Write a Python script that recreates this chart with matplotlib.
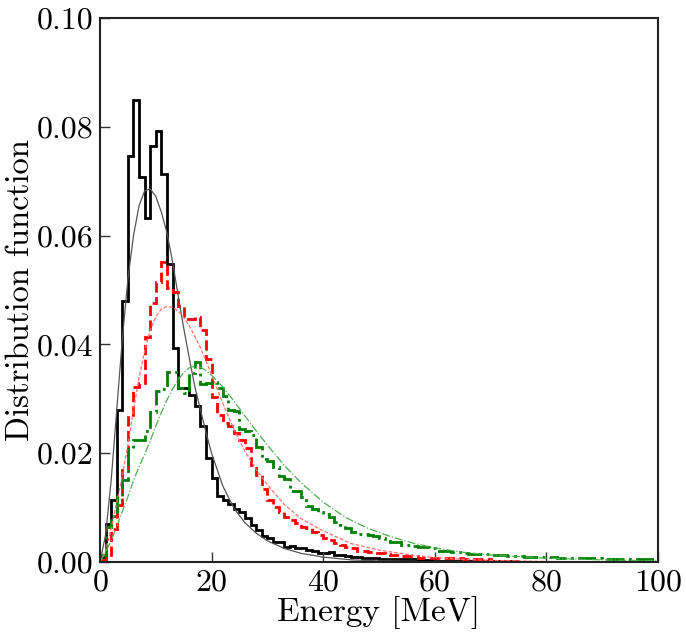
import numpy as np
import matplotlib
matplotlib.use("Agg")
import matplotlib.pyplot as plt

# bin edges (1 MeV bins from 0 to 100 MeV)
edges = np.arange(0, 101)

# histogram values per bin
black_hist = [
    0.0010, 0.0070, 0.0114, 0.0280, 0.0480, 0.0747, 0.0850, 0.0708, 0.0632, 0.0764,
    0.0793, 0.0714, 0.0547, 0.0394, 0.0320, 0.0320, 0.0307, 0.0286, 0.0250, 0.0192,
    0.0154, 0.0121, 0.0114, 0.0106, 0.0098, 0.0091, 0.0081, 0.0068, 0.0059, 0.0048,
    0.0044, 0.0037, 0.0037, 0.0028, 0.0029, 0.0025, 0.0026, 0.0022, 0.0021, 0.0017,
    0.0017, 0.0018, 0.0013, 0.0013, 0.0011, 0.0010, 0.0010, 0.0008, 0.0007, 0.0007,
    0.0006, 0.0006, 0.0006, 0.0005, 0.0005, 0.0005, 0.0005, 0.0004, 0.0004, 0.0004,
    0.0002, 0.0002, 0.0002, 0.0002, 0.0002, 0.0001, 0.0001, 0.0001, 0.0001, 0.0001,
    0.0001, 0.0001, 0.0000, 0.0001, 0.0000, 0.0000, 0.0000, 0.0000, 0.0000, 0.0000,
    0.0000, 0.0000, 0.0000, 0.0000, 0.0000, 0.0000, 0.0000, 0.0000, 0.0000, 0.0000,
    0.0000, 0.0000, 0.0000, 0.0000, 0.0000, 0.0000, 0.0000, 0.0000, 0.0000, 0.0000,
]
red_hist = [
    0.0003, 0.0013, 0.0060, 0.0105, 0.0170, 0.0267, 0.0322, 0.0329, 0.0414, 0.0477,
    0.0515, 0.0551, 0.0503, 0.0497, 0.0470, 0.0447, 0.0447, 0.0450, 0.0426, 0.0374,
    0.0304, 0.0270, 0.0255, 0.0250, 0.0237, 0.0224, 0.0210, 0.0178, 0.0160, 0.0135,
    0.0114, 0.0102, 0.0092, 0.0083, 0.0077, 0.0071, 0.0065, 0.0062, 0.0056, 0.0050,
    0.0044, 0.0040, 0.0035, 0.0031, 0.0028, 0.0025, 0.0021, 0.0021, 0.0019, 0.0017,
    0.0017, 0.0015, 0.0013, 0.0013, 0.0011, 0.0011, 0.0011, 0.0008, 0.0008, 0.0008,
    0.0007, 0.0007, 0.0007, 0.0007, 0.0007, 0.0006, 0.0006, 0.0006, 0.0006, 0.0006,
    0.0002, 0.0002, 0.0001, 0.0001, 0.0001, 0.0000, 0.0000, 0.0000, 0.0000, 0.0000,
    0.0000, 0.0000, 0.0000, 0.0000, 0.0000, 0.0000, 0.0000, 0.0000, 0.0000, 0.0000,
    0.0000, 0.0000, 0.0000, 0.0000, 0.0000, 0.0000, 0.0000, 0.0000, 0.0000, 0.0000,
]
green_hist = [
    0.0012, 0.0065, 0.0085, 0.0120, 0.0150, 0.0207, 0.0225, 0.0225, 0.0240, 0.0275,
    0.0314, 0.0318, 0.0350, 0.0349, 0.0320, 0.0310, 0.0347, 0.0367, 0.0328, 0.0329,
    0.0330, 0.0320, 0.0305, 0.0280, 0.0278, 0.0245, 0.0240, 0.0233, 0.0212, 0.0190,
    0.0186, 0.0174, 0.0159, 0.0152, 0.0130, 0.0130, 0.0120, 0.0103, 0.0097, 0.0092,
    0.0088, 0.0083, 0.0074, 0.0068, 0.0063, 0.0055, 0.0051, 0.0051, 0.0049, 0.0047,
    0.0044, 0.0039, 0.0037, 0.0036, 0.0032, 0.0031, 0.0030, 0.0028, 0.0027, 0.0025,
    0.0021, 0.0021, 0.0020, 0.0019, 0.0018, 0.0017, 0.0014, 0.0014, 0.0014, 0.0014,
    0.0013, 0.0013, 0.0013, 0.0011, 0.0011, 0.0011, 0.0010, 0.0010, 0.0009, 0.0009,
    0.0009, 0.0009, 0.0008, 0.0008, 0.0008, 0.0007, 0.0007, 0.0007, 0.0007, 0.0007,
    0.0006, 0.0006, 0.0006, 0.0006, 0.0006, 0.0006, 0.0006, 0.0006, 0.0006, 0.0006,
]

# fit curves, points
black_fit_e = [0, 1, 2, 3, 4, 5, 6, 7, 8, 9, 10, 11, 12, 13, 14, 15, 16, 17, 18, 19,
               20, 22, 24, 26, 28, 30, 33, 36, 40, 45, 50, 60]
black_fit_f = [0.0, 0.005, 0.015, 0.028, 0.041, 0.052, 0.060, 0.0655, 0.0682, 0.0686,
               0.0672, 0.0643, 0.0605, 0.0552, 0.0490, 0.0430, 0.0375, 0.0322, 0.0280, 0.0238,
               0.0200, 0.0140, 0.0099, 0.0072, 0.0053, 0.0039, 0.0025, 0.0016, 0.0009, 0.0004,
               0.0002, 0.0]

red_fit_e = [0, 1, 2, 3, 4, 5, 6, 7, 8, 9, 10, 11, 12, 13, 14, 15, 16, 17, 18, 20,
             22, 24, 26, 28, 30, 33, 36, 40, 45, 50, 55, 60, 65, 70, 80, 90]
red_fit_f = [0.0, 0.002, 0.0062, 0.011, 0.0158, 0.0215, 0.028, 0.0338, 0.0388, 0.0426,
             0.0451, 0.0465, 0.0470, 0.0468, 0.0461, 0.0450, 0.0434, 0.0415, 0.0394, 0.0345,
             0.0292, 0.0244, 0.0203, 0.0170, 0.0142, 0.0106, 0.0080, 0.0057, 0.0034, 0.0022,
             0.0014, 0.0008, 0.0005, 0.0003, 0.0001, 0.0]

green_fit_e = [0, 1, 2, 3, 4, 5, 6, 7, 8, 9, 10, 11, 12, 13, 14, 15, 16, 17, 18, 19,
               20, 22, 24, 26, 28, 30, 33, 36, 40, 44, 48, 52, 56, 60, 65, 70, 75, 80, 90, 100]
green_fit_f = [0.0, 0.0018, 0.0040, 0.0065, 0.0093, 0.0120, 0.0150, 0.0175, 0.0198, 0.0223,
               0.0250, 0.0275, 0.0298, 0.0318, 0.0335, 0.0348, 0.0357, 0.0360, 0.0358, 0.0352,
               0.0343, 0.0322, 0.0296, 0.0268, 0.0241, 0.0215, 0.0178, 0.0146, 0.0110, 0.0082,
               0.0062, 0.0047, 0.0035, 0.0026, 0.0018, 0.0013, 0.0010, 0.0007, 0.0004, 0.0002]

plt.rcParams['font.family'] = ['cmr10', 'DejaVu Serif']
plt.rcParams['mathtext.fontset'] = 'cm'
plt.rcParams['axes.formatter.use_mathtext'] = True

fig = plt.figure(figsize=(6.86, 6.42), dpi=100)
ax = fig.add_axes([0.1458, 0.1246, 0.8132, 0.8474])

ax.stairs(black_hist, edges, color='black', lw=2.0, baseline=None)
ax.stairs(red_hist, edges, color='red', lw=2.0, ls='--', baseline=None)
ax.stairs(green_hist, edges, color='green', lw=2.0, ls='-.', baseline=None)

ax.plot(black_fit_e, black_fit_f, color='#555555', lw=0.9)
ax.plot(red_fit_e, red_fit_f, color='#ff7070', lw=0.9, ls='--', dashes=(3, 1.5))
ax.plot(green_fit_e, green_fit_f, color='#4caf50', lw=0.9, ls='-.')

ax.set_xlim(0, 100)
ax.set_ylim(0, 0.10)
ax.set_xticks([0, 20, 40, 60, 80, 100])
ax.set_yticks([0.0, 0.02, 0.04, 0.06, 0.08, 0.10])
ax.set_yticklabels(['0.00', '0.02', '0.04', '0.06', '0.08', '0.10'])
ax.tick_params(direction='in', length=7, width=1, labelsize=23, color='#333333',
               top=False, right=False, pad=5)
for s in ax.spines.values():
    s.set_linewidth(1.5)
    s.set_color('#222222')

ax.set_xlabel('Energy [MeV]', fontsize=24, labelpad=0)
ax.set_ylabel('Distribution function', fontsize=23.5, labelpad=1)

fig.savefig('out.png', dpi=100)
